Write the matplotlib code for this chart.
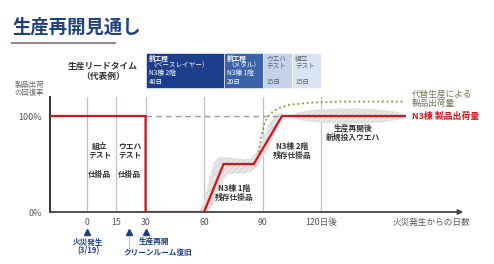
import matplotlib
matplotlib.use("Agg")
import matplotlib.pyplot as plt
import matplotlib.transforms as mtransforms
from matplotlib.patches import Rectangle, Ellipse

plt.rcParams['font.family'] = ['Noto Sans CJK JP', 'DejaVu Sans']
plt.rcParams['hatch.linewidth'] = 0.45

# ---- data ----
tick_days = [0, 15, 30, 60, 90, 120]
tick_labels = ['0', '15', '30', '60', '90', '120日後']

# N3 building shipment recovery (fraction of normal)
n3_days = [-19, 30, 30, 60, 70, 85.5, 100, 163]
n3_vals = [1.0, 1.0, 0.0, 0.0, 0.5, 0.5, 1.0, 1.0]

# shipments including alternative production
alt_days = [88, 89, 90, 91, 93, 95, 98, 101, 105, 110, 116, 130, 163]
alt_vals = [0.62, 0.74, 0.85, 0.93, 1.00, 1.04, 1.08, 1.10, 1.12, 1.13, 1.14, 1.15, 1.15]

# uncertainty ribbon around the restart ramp
band_days = [58, 60, 62, 64, 66, 68, 70, 72, 76, 80, 84, 87, 90, 93, 96, 99, 101]
band_low = [0.0, 0.0, 0.0, 0.05, 0.12, 0.24, 0.33, 0.39, 0.40, 0.40, 0.42, 0.47, 0.56, 0.67, 0.80, 0.94, 1.0]
band_high = [0.03, 0.12, 0.28, 0.45, 0.55, 0.57, 0.57, 0.57, 0.56, 0.55, 0.56, 0.63, 0.75, 0.90, 1.0, 1.03, 1.02]

# lead-time stages (start day, length in days)
stage_names = ['前工程\n（ベースレイヤー）\nN3棟 2階\n40日',
               '前工程\n（メタル）\nN3棟 1階\n20日',
               'ウエハ\nテスト\n\n15日',
               '組立\nテスト\n\n15日']
stage_days = [40, 20, 15, 15]
stage_start = 30

# ---- figure ----
W, H = 494, 264
fig = plt.figure(figsize=(W / 100, H / 100), dpi=100)
fig.patch.set_facecolor('white')

ax_l, ax_r, ax_t, ax_b = 50, 470, 97, 212
ax = fig.add_axes([ax_l / W, 1 - ax_b / H, (ax_r - ax_l) / W, (ax_b - ax_t) / H])
ax.set_xlim(-19, 196.4)
ax.set_ylim(0, 1.198)
ax.set_facecolor('none')
for s in ['top', 'right', 'bottom']:
    ax.spines[s].set_visible(False)
ax.spines['left'].set_color('#222222')
ax.spines['left'].set_linewidth(1.3)

def fp(x, y):
    return (x / W, 1 - y / H)

bx = mtransforms.blended_transform_factory(ax.transData, fig.transFigure)

navy = '#1d3f85'
red = '#d3141c'
gray_txt = '#555555'

# ticks
ax.set_xticks(tick_days)
ax.set_xticklabels(tick_labels, color=gray_txt, fontsize=6.3)
ax.set_yticks([0, 1])
ax.set_yticklabels(['0%', '100%'], color=gray_txt, fontsize=6.5)
ax.tick_params(axis='both', length=0)
ax.tick_params(axis='x', pad=4)
ax.tick_params(axis='y', pad=6)

# vertical guides
for d in tick_days:
    ax.plot([d, d], [0, 1.198], color='#b9c3d1', lw=0.9, zorder=1)

# x axis arrow
ax.annotate('', xy=(193, 0), xytext=(-19, 0),
            arrowprops=dict(arrowstyle='-|>', color='#444444', lw=1.3,
                            mutation_scale=7, shrinkA=0, shrinkB=0),
            annotation_clip=False, zorder=5)

# uncertainty shading
ax.fill_between(band_days, band_low, band_high, facecolor='#e5e5e5',
                edgecolor='#cdcdcd', hatch='//////', lw=0, zorder=2)
ax.add_patch(Ellipse((134, 1.0), 58, 0.16, facecolor='#e5e5e5',
                     edgecolor='#cdcdcd', hatch='//////', lw=0, zorder=2))

# 100% reference
ax.plot([30, 100], [1, 1], color='#9a9a9a', lw=1.0, ls=(0, (4, 3)), zorder=3)

# series
ax.plot(alt_days, alt_vals, color='#8e9a2c', lw=1.3, ls=(0, (1, 1.6)), zorder=4)
ax.plot(n3_days, n3_vals, color=red, lw=1.6, zorder=6, solid_joinstyle='miter')

# stage header boxes
stage_colors = ['#1c3e8b', '#3c62a8', '#c4d2ea', '#d9e3f2']
stage_text = ['white', 'white', '#5a6070', '#5a6070']
y0, y1 = (212 - 88) / 96, (212 - 53) / 96
x = stage_start
for name, length, fc, tc in zip(stage_names, stage_days, stage_colors, stage_text):
    ax.add_patch(Rectangle((x, y0), length, y1 - y0, facecolor=fc,
                           edgecolor='white', lw=0.4, clip_on=False, zorder=6))
    lines = name.split('\n')
    ys = [58.5, 65.5, 73.0, 81.5]
    for i, (ln, yy) in enumerate(zip(lines, ys)):
        if not ln:
            continue
        ax.text(x + 1.8, fp(0, yy)[1], ln, transform=bx, color=tc,
                fontsize=4.8, ha='left', va='center',
                fontweight='bold' if (i == 0 and tc == 'white') else 'normal',
                zorder=7)
    x += length

# title
fig.text(*fp(12, 27), '生産再開見通し', fontsize=13.2, fontweight='bold',
         color=navy, ha='left', va='center')
fig.add_artist(plt.Line2D([12 / W, 115 / W], [1 - 43 / H] * 2,
                          color='#8c8c8c', lw=1.5))

fig.text(*fp(103, 66), '生産リードタイム', fontsize=6.3, fontweight='bold',
         color='#333333', ha='center', va='center')
fig.text(*fp(103, 76), '（代表例）', fontsize=6.3, fontweight='bold',
         color='#333333', ha='center', va='center')

fig.text(*fp(29, 85), '製品出荷', fontsize=5.3, color='#666666',
         ha='center', va='center')
fig.text(*fp(29, 93), 'の回復率', fontsize=5.3, color='#666666',
         ha='center', va='center')

# in-plot labels
def label(day, ypx, s, **kw):
    kw.setdefault('fontsize', 5.6)
    kw.setdefault('color', '#333333')
    kw.setdefault('fontweight', 'bold')
    kw.setdefault('ha', 'center')
    ax.text(day, fp(0, ypx)[1], s, transform=bx, va='center', zorder=8, **kw)

label(6.5, 146, '組立')
label(6.5, 155, 'テスト')
label(6.5, 174, '仕掛品')
label(22, 146, 'ウエハ')
label(22, 155, 'テスト')
label(22, 174, '仕掛品')
label(75.5, 188, 'N3棟 1階')
label(75.5, 197, '残存仕掛品')
label(105, 146, 'N3棟 2階')
label(105, 155, '残存仕掛品')
label(136.5, 128, '生産再開後')
label(136.5, 137, '新規投入ウエハ')
label(166.5, 94, '代替生産による', ha='left', color='#6f7a55',
      fontweight='normal', fontsize=6.2)
label(166.5, 103, '製品出荷量', ha='left', color='#6f7a55',
      fontweight='normal', fontsize=6.2)
label(166.5, 116, 'N3棟 製品出荷量', ha='left', color=red, fontsize=6.4)
label(196.4, 222, '火災発生からの日数', ha='right', color=gray_txt,
      fontweight='normal', fontsize=6.2)

# event markers below the axis
event_days = [0, 21.5, 30]
tri_y = fp(0, 232)[1]
ax.plot(event_days, [tri_y] * 3, transform=bx, ls='none', marker='^',
        markersize=4.8, color=navy, clip_on=False)
ax.plot([21.5, 21.5], [fp(0, 236)[1], fp(0, 253)[1]], transform=bx,
        color='#888888', lw=0.7, ls=(0, (1, 1)), clip_on=False)
label(0.5, 242, '火災発生', color=navy, fontsize=5.5)
label(0.5, 251, '(3/19)', color=navy, fontsize=5.5)
label(34.5, 241, '生産再開', color=navy, fontsize=5.5)
label(36.5, 252, 'クリーンルーム復旧', color=navy, fontsize=5.5)

fig.savefig('out.png', dpi=100)
